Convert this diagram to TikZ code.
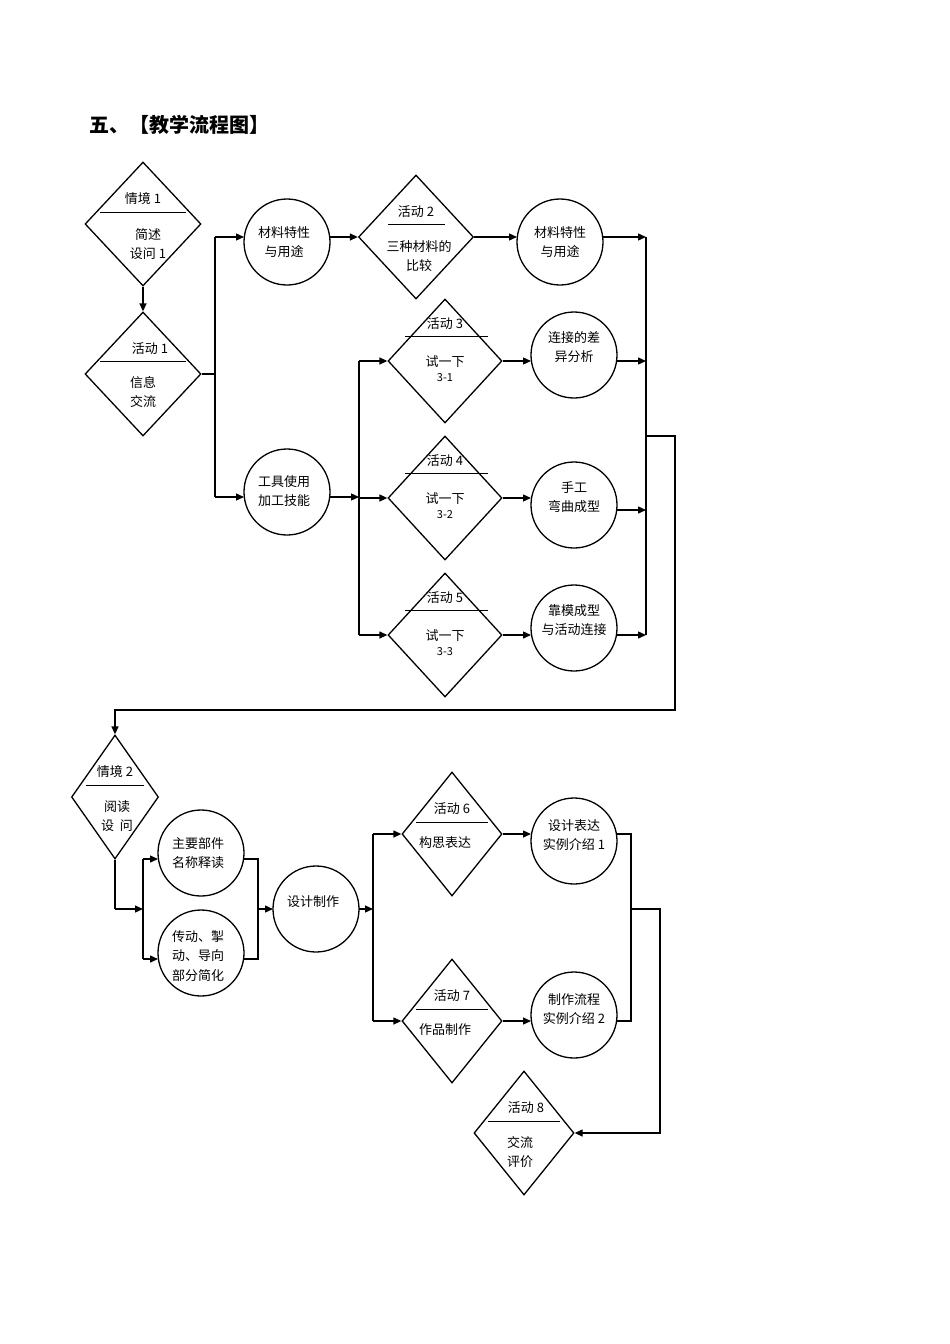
\documentclass[tikz,border=0pt]{standalone}
\usepackage{fontspec}
\setmainfont{Liberation Serif}
\newfontfamily\cjk{Noto Sans CJK SC}
\usetikzlibrary{shapes.geometric,arrows.meta}
\begin{document}
\begin{tikzpicture}[x=1pt,y=-1pt,line width=1.3pt,
  dia/.style={draw,diamond,inner sep=0pt},
  cir/.style={draw,circle,minimum size=86pt,inner sep=0pt},
  t/.style={font=\cjk\fontsize{13}{19}\selectfont,align=center,inner sep=0pt},
  ar/.style={-{Triangle[length=8pt,width=7pt]}}]
\useasboundingbox (0,0) rectangle (950,1344);
\node[anchor=west,font=\cjk\bfseries\fontsize{20}{24}\selectfont] (title) at (86,125) {五、【教学流程图】};
% top part
\node[dia,minimum width=116pt,minimum height=124pt] (d1) at (143,224) {};
\node[t] (d1a) at (143,199) {情境 1};
\draw[line width=1pt] (100,212) -- (186,212);
\node[t] (d1b) at (148,244) {简述\\设问 1};
\node[dia,minimum width=116pt,minimum height=124pt] (d2) at (143,374) {};
\node[t] (d2a) at (150,349) {活动 1};
\draw[line width=1pt] (100,361) -- (186,361);
\node[t] (d2b) at (143,392) {信息\\交流};
\draw[ar] (d1.south) -- (d2.north);
\coordinate (j1) at (215,374);
\draw (d2.east) -- (j1);
\draw (215,237) -- (215,497);
\node[cir] (c1) at (287,242) {};
\node[t] (c1t) at (284,242) {材料特性\\与用途};
\node[cir] (c2) at (287,492) {};
\node[t] (c2t) at (284,491) {工具使用\\加工技能};
\draw[ar] (215,237) -- (244,237);
\draw[ar] (215,497) -- (244,497);
\node[dia,minimum width=115pt,minimum height=124pt] (d3) at (416,237) {};
\node[t] (d3a) at (416,212) {活动 2};
\draw[line width=1pt] (388,224) -- (445,224);
\node[t] (d3b) at (419,256) {三种材料的\\比较};
\draw[ar] (330,237) -- (d3.west);
\node[cir] (c3) at (560,242) {};
\node[t] (c3t) at (560,242) {材料特性\\与用途};
\draw[ar] (d3.east) -- (517,237);
\draw[ar] (603,237) -- (646,237);
\draw (646,237) -- (646,635);
\foreach \n/\y/\ca/\cb/\cc/\cy/\ta/\tb in {4/361/活动 3/试一下/3-1/355/连接的差/异分析,5/498/活动 4/试一下/3-2/505/手工/弯曲成型,6/635/活动 5/试一下/3-3/628/靠模成型/与活动连接}{
  \node[dia,minimum width=114pt,minimum height=124pt] (d\n) at (445,\y) {};
  \node[t] (d\n a) at (445,\y-37) {\ca};
  \draw[line width=1pt] (405,\y-25) -- (488,\y-25);
  \node[t] (d\n b) at (445,\y+8) {\cb\\[-4pt]{\fontsize{11}{13}\selectfont\cc}};
  \node[cir] (c\n) at (574,\cy) {};
  \node[t] (c\n t) at (574,\cy-8) {\ta\\\tb};
  \draw[ar] (359,\y) -- (d\n.west);
  \draw[ar] (d\n.east) -- (531,\y);
}
\draw[ar] (617,361) -- (646,361);
\draw[ar] (617,510) -- (646,510);
\draw[ar] (617,635) -- (646,635);
\draw[ar] (330,497) -- (359,497);
\draw (359,361) -- (359,635);
% connector to bottom part
\node[dia,minimum width=87pt,minimum height=124pt] (d7) at (115,797) {};
\node[t] (d7a) at (115,772) {情境 2};
\draw[line width=1pt] (86,785) -- (144,785);
\node[t] (d7b) at (117,816) {阅读\\设\ \ 问};
\draw[ar] (646,436) -- (675,436) -- (675,710) -- (115,710) -- (d7.north);
\draw (d7.south) -- (115,909);
\draw[ar] (115,909) -- (143,909);
\draw (143,859) -- (143,959);
\node[cir] (c7) at (201,853) {};
\node[t] (c7t) at (198,853) {主要部件\\名称释读};
\node[cir] (c8) at (201,953) {};
\node[t,font=\cjk\fontsize{13}{19.5}\selectfont] (c8t) at (198,956) {传动、掣\\动、导向\\部分简化};
\draw[ar] (143,859) -- (158,859);
\draw[ar] (143,959) -- (158,959);
\draw (244,859) -- (258,859) -- (258,959) -- (244,959);
\node[cir] (c9) at (316,909) {};
\node[t] (c9t) at (313,902) {设计制作};
\draw[ar] (258,909) -- (273,909);
\draw[ar] (359,909) -- (373,909);
\draw (373,834) -- (373,1021);
\foreach \n/\y/\ca/\cb/\cy/\ta/\tb in {8/834/活动 6/构思表达/841/设计表达/实例介绍 1,9/1021/活动 7/作品制作/1015/制作流程/实例介绍 2}{
  \node[dia,minimum width=100pt,minimum height=124pt] (d\n) at (452,\y) {};
  \node[t] (d\n a) at (452,\y-25) {\ca};
  \draw[line width=1pt] (416,\y-12) -- (488,\y-12);
  \node[t] (d\n b) at (445,\y+9) {\cb};
  \node[cir] (c\n) at (574,\cy) {};
  \node[t] (c\n t) at (574,\cy-6) {\ta\\\tb};
  \draw[ar] (373,\y) -- (d\n.west);
  \draw[ar] (d\n.east) -- (531,\y);
}
\draw (617,834) -- (631,834) -- (631,1021) -- (617,1021);
\node[dia,minimum width=100pt,minimum height=124pt] (d10) at (524,1133) {};
\node[t] (d10a) at (526,1108) {活动 8};
\draw[line width=1pt] (488,1121) -- (560,1121);
\node[t] (d10b) at (520,1152) {交流\\评价};
\draw[ar] (631,909) -- (660,909) -- (660,1133) -- (d10.east);
\end{tikzpicture}
\end{document}
